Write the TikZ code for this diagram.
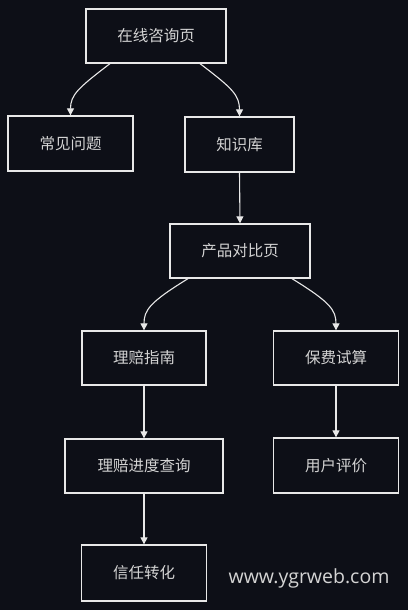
\documentclass[tikz,border=0pt]{standalone}
\usepackage{fontspec}
\newfontfamily\cjk{Noto Sans CJK SC}
\newfontfamily\wmfont{Open Sans}
\usetikzlibrary{arrows.meta}
\definecolor{bg}{HTML}{0D0F17}
\definecolor{boxfill}{HTML}{0D0F17}
\definecolor{edge}{HTML}{E8E8E8}
\definecolor{txt}{HTML}{D4D4D4}
\tikzset{
  box/.style={draw=edge, fill=boxfill, line width=1.3pt, rectangle, inner sep=0pt,
    text=txt, font=\cjk\fontsize{15.5}{18}\selectfont},
  conn/.style={draw=edge, line width=1.1pt, -{Triangle[length=7pt,width=7pt]}},
}
\begin{document}
\begin{tikzpicture}[x=1pt,y=-1pt]
\fill[bg] (0,0) rectangle (408,610);
\useasboundingbox (0,0) rectangle (408,610);
\node[box, minimum width=140pt, minimum height=54pt] (zx) at (156,36) {在线咨询页};
\node[box, minimum width=125pt, minimum height=55pt] (cj) at (70.5,143.5) {常见问题};
\node[box, minimum width=109pt, minimum height=55pt] (zs) at (239.5,144.5) {知识库};
\node[box, minimum width=140pt, minimum height=54pt] (cp) at (240,251) {产品对比页};
\node[box, minimum width=124pt, minimum height=54pt] (lp) at (144,358) {理赔指南};
\node[box, minimum width=125pt, minimum height=54pt] (bf) at (336,358) {保费试算};
\node[box, minimum width=158pt, minimum height=54pt] (jd) at (144,466) {理赔进度查询};
\node[box, minimum width=125pt, minimum height=55pt] (yh) at (336,465.5) {用户评价};
\node[box, minimum width=125pt, minimum height=56pt] (xr) at (144,573) {信任转化};
\node[text=txt, font=\wmfont\fontsize{19.5}{22}\selectfont, anchor=center] (wm) at (309,578) {www.ygrweb.com};
\draw[conn] ([xshift=-46pt]zx.south) .. controls (78,88) and (70.5,95) .. (cj.north);
\draw[conn] ([xshift=44pt]zx.south) .. controls (232,88) and (239.5,95) .. (zs.north);
\draw[conn] (zs.south) -- (cp.north);
\draw[conn] ([xshift=-52pt]cp.south) .. controls (150,302) and (144,310) .. (lp.north);
\draw[conn] ([xshift=52pt]cp.south) .. controls (330,302) and (336,310) .. (bf.north);
\draw[conn] (lp.south) -- (jd.north);
\draw[conn] (bf.south) -- (yh.north);
\draw[conn] (jd.south) -- (xr.north);
\end{tikzpicture}
\end{document}
